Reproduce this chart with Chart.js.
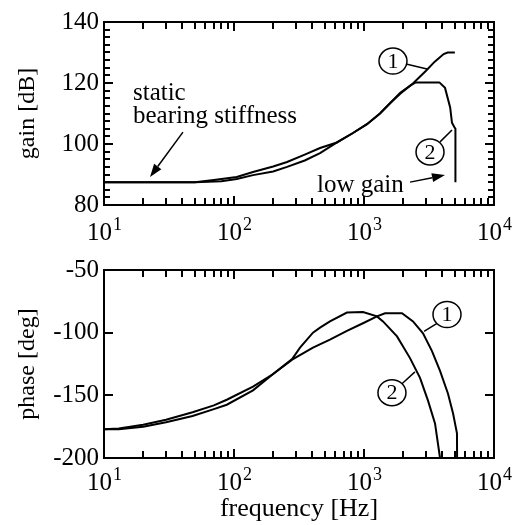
<!DOCTYPE html>
<html>
<head>
<meta charset="utf-8">
<script src="https://cdn.jsdelivr.net/npm/chart.js@4.4.0/dist/chart.umd.min.js"></script>
<style>
  html, body { margin: 0; padding: 0; background: #fff; }
  #wrap { position: relative; width: 519px; height: 525px; background: #fff; }
  canvas { position: absolute; left: 0; }
  #gain-chart { top: 0; }
  #phase-chart { top: 250px; }
</style>
</head>
<body>
<div id="wrap">
  <canvas id="gain-chart" width="519" height="250"></canvas>
  <canvas id="phase-chart" width="519" height="275"></canvas>
</div>
<script>
// frequency axis [Hz]: decades and the exponent shown on each
const decades = [10, 100, 1000, 10000];
const decadeExponents = ['1', '2', '3', '4'];

// gain [dB] - curve 1
const gainFreq1 = [10, 50, 80, 105, 140, 200, 256, 350, 459, 619, 823, 1054, 1327, 1600, 1900, 2400, 3000, 3500, 4100, 4400, 5000];
const gain1 = [87.5, 87.5, 87.8, 88.5, 89.8, 91.0, 92.5, 94.6, 97.0, 100.5, 103.6, 106.5, 110.0, 113.5, 116.5, 120.0, 124.0, 127.0, 129.5, 130.0, 130.0];

// gain [dB] - curve 2
const gainFreq2 = [10, 50, 70, 105, 140, 200, 256, 350, 459, 619, 823, 1054, 1327, 1600, 1900, 2300, 2500, 3800, 4200, 4600, 4750, 4950, 5050, 5050];
const gain2 = [87.5, 87.5, 88.2, 89.2, 90.8, 92.6, 94.1, 96.5, 98.7, 100.5, 103.6, 106.5, 110.0, 113.5, 116.8, 119.3, 120.2, 120.2, 118.4, 112.0, 107.0, 105.6, 105.0, 87.5];

// phase [deg] - curve 1
const phaseFreq1 = [10, 13, 20, 30, 48, 70, 88, 140, 200, 280, 405, 547, 739, 982, 1259, 1450, 1960, 2383, 2844, 3334, 3845, 4428, 4844, 5190, 5200];
const phase1 = [-177, -176.5, -173.5, -169.5, -163.5, -158, -153.5, -143, -133, -121.5, -112, -105.5, -98.5, -92.5, -87, -84.5, -84.5, -91, -100.5, -114.7, -130.5, -148.7, -164.5, -180.3, -200];

// phase [deg] - curve 2
const phaseFreq2 = [10, 13, 20, 30, 48, 70, 88, 140, 200, 280, 322, 405, 459, 547, 739, 982, 1259, 1400, 1795, 2259, 2697, 3107, 3518, 3845];
const phase2 = [-177, -177, -175, -171.5, -166.5, -161, -157.5, -146, -133, -121, -112, -100, -96, -91, -84, -83.5, -87, -91, -103, -120.3, -136.1, -154.2, -172.4, -200];

const serif = '"Liberation Serif", "Times New Roman", serif';

function toPoints(xs, ys) {
  return xs.map((x, i) => ({ x: x, y: ys[i] }));
}

function toPx(chart, f, v) {
  return [chart.scales.x.getPixelForValue(f), chart.scales.y.getPixelForValue(v)];
}

// box frame, inward tick marks and the 10^n labels
const framePlugin = {
  id: 'frame',
  afterDraw(chart) {
    const cfg = chart.$cfg;
    const { ctx, chartArea: a } = chart;
    const xs = chart.scales.x, ys = chart.scales.y;
    ctx.save();
    ctx.fillStyle = '#000';
    const top = Math.round(a.top), bottom = Math.round(a.bottom);
    const left = Math.round(a.left), right = Math.round(a.right);
    // log ticks 2..9 of every decade plus inner decades, top and bottom edges
    for (let d = 0; d < decades.length - 1; d++) {
      for (let m = (d === 0 ? 2 : 1); m <= 9; m++) {
        const len = m === 1 ? 9 : 7;
        const x = Math.round(xs.getPixelForValue(decades[d] * m));
        ctx.fillRect(x - 1, top, 2, len);
        ctx.fillRect(x - 1, bottom - len, 2, len);
      }
    }
    // value ticks on the left and right edges
    const n = Math.round((cfg.yMax - cfg.yMin) / cfg.yStep);
    for (let k = 1; k < n; k++) {
      const v = cfg.yMin + k * cfg.yStep;
      const r = (v - cfg.yMin) / cfg.yMajor;
      const len = Math.abs(r - Math.round(r)) < 1e-6 ? 9 : 6;
      const y = Math.round(ys.getPixelForValue(v));
      ctx.fillRect(left, y - 1, len, 2);
      ctx.fillRect(right - len, y - 1, len, 2);
    }
    ctx.strokeStyle = '#000';
    ctx.lineWidth = 2;
    ctx.strokeRect(a.left, a.top, a.right - a.left, a.bottom - a.top);

    // decade labels with a raised exponent
    ctx.textBaseline = 'alphabetic';
    ctx.textAlign = 'left';
    const base = a.bottom + cfg.labelDrop;
    decades.forEach((d, i) => {
      const x = xs.getPixelForValue(d);
      ctx.font = '25px ' + serif;
      const w1 = ctx.measureText('10').width;
      ctx.font = '18px ' + serif;
      const w2 = ctx.measureText(decadeExponents[i]).width;
      const x0 = x - (w1 + w2) / 2;
      ctx.font = '25px ' + serif;
      ctx.fillText('10', x0, base);
      ctx.font = '18px ' + serif;
      ctx.fillText(decadeExponents[i], x0 + w1 + 1, base - 10);
    });
    ctx.restore();
  }
};

// texts, arrows and numbered circles
const notesPlugin = {
  id: 'notes',
  afterDatasetsDraw(chart) {
    const opts = chart.$cfg.notes;
    const ctx = chart.ctx;
    ctx.save();
    ctx.fillStyle = '#000';
    ctx.strokeStyle = '#000';
    ctx.font = '25px ' + serif;
    ctx.textBaseline = 'alphabetic';
    ctx.textAlign = 'left';
    (opts.texts || []).forEach(t => {
      const [x, y] = toPx(chart, t.f, t.v);
      ctx.fillText(t.text, x, y);
    });
    (opts.arrows || []).forEach(ar => {
      const [x1, y1] = toPx(chart, ar.from[0], ar.from[1]);
      const [x2, y2] = toPx(chart, ar.to[0], ar.to[1]);
      const ang = Math.atan2(y2 - y1, x2 - x1);
      const hl = 13, hw = 4.5;
      const bx = x2 - hl * Math.cos(ang), by = y2 - hl * Math.sin(ang);
      ctx.lineWidth = 1.5;
      ctx.beginPath();
      ctx.moveTo(x1, y1); ctx.lineTo(bx, by);
      ctx.stroke();
      ctx.beginPath();
      ctx.moveTo(x2, y2);
      ctx.lineTo(bx + hw * Math.sin(ang), by - hw * Math.cos(ang));
      ctx.lineTo(bx - hw * Math.sin(ang), by + hw * Math.cos(ang));
      ctx.closePath();
      ctx.fill();
    });
    (opts.circles || []).forEach(c => {
      const [cx, cy] = toPx(chart, c.f, c.v);
      const [l1x, l1y] = toPx(chart, c.lead[0][0], c.lead[0][1]);
      const [l2x, l2y] = toPx(chart, c.lead[1][0], c.lead[1][1]);
      ctx.lineWidth = 1.5;
      ctx.beginPath();
      ctx.moveTo(l1x, l1y); ctx.lineTo(l2x, l2y);
      ctx.stroke();
      ctx.beginPath();
      ctx.ellipse(cx, cy, 14, 13, 0, 0, Math.PI * 2);
      ctx.fillStyle = '#fff';
      ctx.fill();
      ctx.stroke();
      ctx.fillStyle = '#000';
      ctx.font = '22px ' + serif;
      ctx.textAlign = 'center';
      ctx.textBaseline = 'middle';
      ctx.fillText(c.label, cx, cy + 1);
    });
    ctx.restore();
  }
};

function lineSet(points) {
  return {
    data: points,
    showLine: true,
    borderColor: '#000',
    borderWidth: 2,
    pointRadius: 0,
    tension: 0,
    fill: false
  };
}

function makeChart(canvasId, cfg) {
  const chart = new Chart(document.getElementById(canvasId), {
    type: 'scatter',
    data: { datasets: cfg.series.map(lineSet) },
    options: {
      responsive: false,
      animation: false,
      layout: { padding: { left: 8, right: 25, top: cfg.padTop, bottom: 0 } },
      plugins: {
        legend: { display: false },
        tooltip: { enabled: false }
      },
      scales: {
        x: {
          type: 'logarithmic',
          min: decades[0],
          max: decades[decades.length - 1],
          grid: { display: false, drawTicks: false },
          border: { display: false },
          afterFit: (scale) => { scale.height = cfg.xHeight; },
          ticks: { display: false },
          title: cfg.xTitle ? {
            display: true,
            text: cfg.xTitle,
            color: '#000',
            font: { family: serif, size: 26 },
            padding: { top: 0, bottom: 0 }
          } : { display: false }
        },
        y: {
          type: 'linear',
          min: cfg.yMin,
          max: cfg.yMax,
          grid: { display: false, drawTicks: false },
          border: { display: false },
          afterFit: (scale) => { scale.width = 96; },
          ticks: {
            stepSize: cfg.yMajor,
            padding: 5,
            color: '#000',
            font: { family: serif, size: 25 }
          },
          title: {
            display: true,
            text: cfg.yTitle,
            color: '#000',
            font: { family: serif, size: 24 },
            padding: { top: 5, bottom: 0 }
          }
        }
      }
    },
    plugins: [{ id: 'cfgHolder', beforeInit(c) { c.$cfg = cfg; } }, framePlugin, notesPlugin]
  });
  return chart;
}

makeChart('gain-chart', {
  series: [toPoints(gainFreq1, gain1), toPoints(gainFreq2, gain2)],
  yMin: 80, yMax: 140, yMajor: 20, yStep: 2.5,
  padTop: 22, xHeight: 45, labelDrop: 35,
  yTitle: 'gain [dB]',
  notes: {
    texts: [
      { text: 'static', f: 16.7, v: 114.4 },
      { text: 'bearing stiffness', f: 16.7, v: 106.9 },
      { text: 'low gain', f: 435, v: 84.3 }
    ],
    arrows: [
      { from: [40.5, 103.9], to: [22.6, 89.2] },
      { from: [2260, 87.5], to: [4198, 89.8] }
    ],
    circles: [
      { label: '1', f: 1671, v: 127.2, lead: [[2105, 126.2], [3054, 124.6]] },
      { label: '2', f: 3220, v: 97.4, lead: [[3845, 100.7], [4753, 104.6]] }
    ]
  }
});

makeChart('phase-chart', {
  series: [toPoints(phaseFreq1, phase1), toPoints(phaseFreq2, phase2)],
  yMin: -200, yMax: -50, yMajor: 50, yStep: 50,
  padTop: 18, xHeight: 67, labelDrop: 32,
  yTitle: 'phase [deg]',
  xTitle: 'frequency [Hz]',
  notes: {
    circles: [
      { label: '1', f: 4350, v: -85.5, lead: [[2897, -98.9], [3648, -92.6]] },
      { label: '2', f: 1641, v: -147.9, lead: [[1959, -140.8], [2466, -131.3]] }
    ]
  }
});
</script>
</body>
</html>
